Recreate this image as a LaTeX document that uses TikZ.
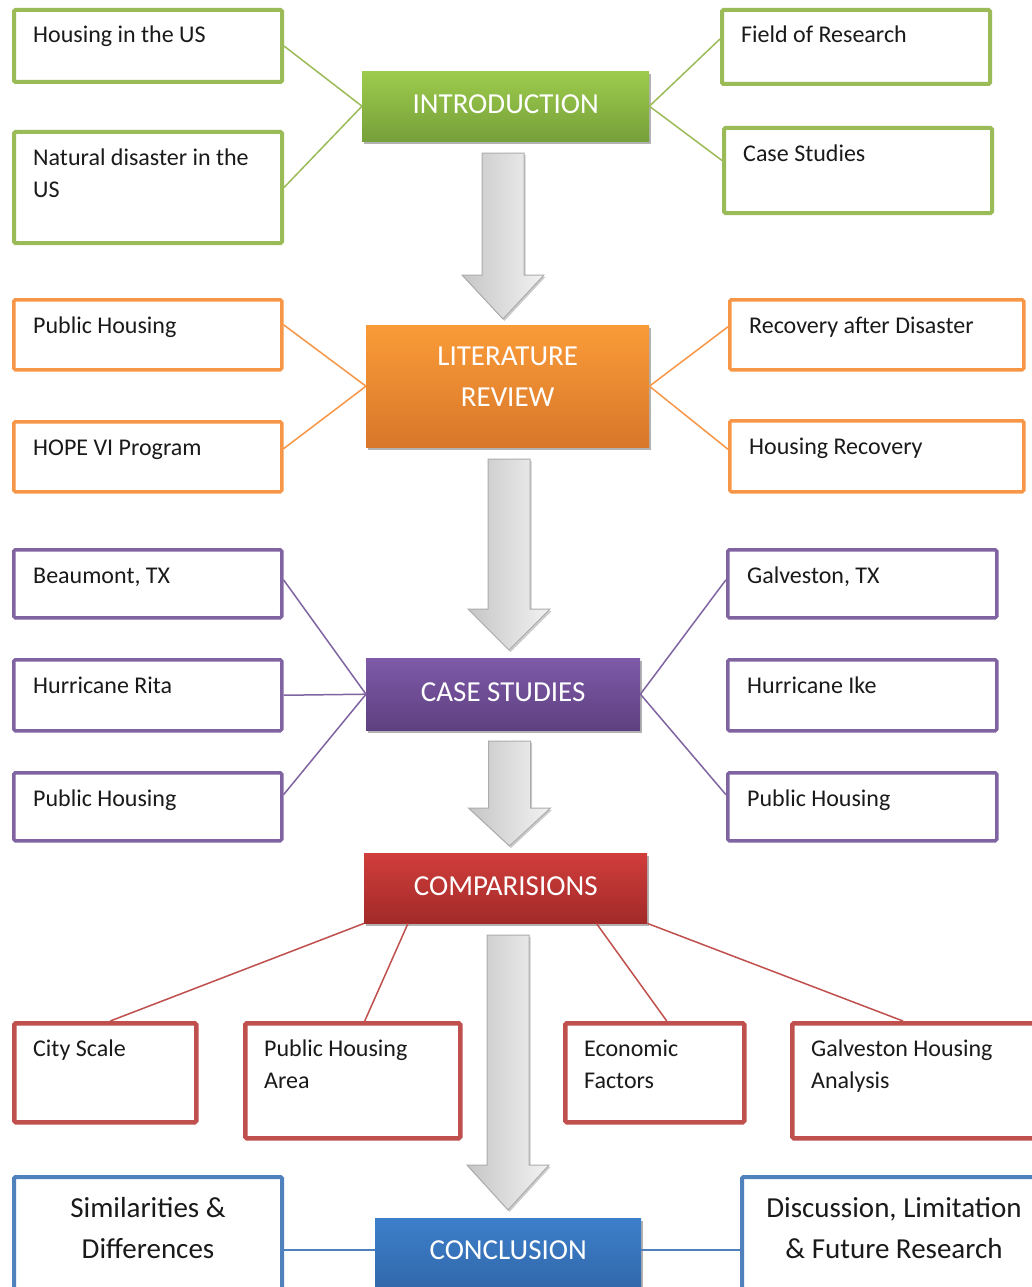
\documentclass[tikz,border=0pt]{standalone}
\usepackage{fontspec}
\setmainfont{Carlito}
\usetikzlibrary{shadows,calc}
\definecolor{cgreen}{HTML}{9BBB59}
\definecolor{corange}{HTML}{F79646}
\definecolor{cpurple}{HTML}{8064A2}
\definecolor{cred}{HTML}{C0504D}
\definecolor{cblue}{HTML}{4F81BD}
\definecolor{gtop}{HTML}{9DCB4C}
\definecolor{gbot}{HTML}{76A03A}
\definecolor{otop}{HTML}{FA9B38}
\definecolor{obot}{HTML}{D8772A}
\definecolor{ptop}{HTML}{7E5AA8}
\definecolor{pbot}{HTML}{5E4080}
\definecolor{rtop}{HTML}{D03E3B}
\definecolor{rbot}{HTML}{A22A29}
\definecolor{btop}{HTML}{3D7FCB}
\definecolor{bbot}{HTML}{2C5E9C}
\definecolor{txt}{HTML}{1A1A1A}
\tikzset{
  sbox/.style={draw, line width=4pt, rounded corners=1.5pt, fill=white, anchor=north west, inner sep=0pt},
  gbox/.style={sbox, draw=cgreen},
  obox/.style={sbox, draw=corange, line width=3.5pt},
  pbox/.style={sbox, draw=cpurple, line width=3.5pt},
  rbox/.style={sbox, draw=cred, line width=4.5pt},
  bbox/.style={sbox, draw=cblue},
  stxt/.style={anchor=base west, inner sep=0pt, font=\fontsize{24}{32}\selectfont, text=txt},
  btxt/.style={anchor=center, inner sep=0pt, font=\fontsize{29}{41}\selectfont, text=txt, align=center},
  mainbox/.style={anchor=north west, inner sep=0pt, draw=none,
    drop shadow={shadow xshift=2pt, shadow yshift=-3pt, opacity=0.3, fill=black}},
  mtxt/.style={anchor=center, inner sep=0pt, text=white, font=\fontsize{29}{41}\selectfont, align=center},
  link/.style={line width=1.5pt},
  bigarrow/.style={draw=gray!65, line width=1pt, left color=gray!45, right color=gray!10,
    drop shadow={shadow xshift=1.5pt, shadow yshift=-2pt, opacity=0.2, fill=black}}
}
\newcommand\bigarr[4]{%
  \path[bigarrow] ({#1-21},#2) -- ({#1+21},#2) -- ({#1+21},#3) -- ({#1+41},#3) -- (#1,#4)
    -- ({#1-41},#3) -- ({#1-21},#3) -- cycle;}
\begin{document}
\begin{tikzpicture}[x=1pt, y=-1pt]
\useasboundingbox (0,0) rectangle (1032,1287);
\fill[white] (0,0) rectangle (1032,1287);

% big arrows
\bigarr{503}{153}{275}{319}
\bigarr{509}{459}{609}{650}
\bigarr{509.5}{741}{808}{846}
\bigarr{508}{935}{1165}{1210}

% ---------- INTRODUCTION ----------
\node[mainbox, top color=gtop, bottom color=gbot, minimum width=287pt, minimum height=70pt] (intro) at (362,71) {};
\node[mtxt] (introT) at ([yshift=2pt]intro.center) {INTRODUCTION};
\node[gbox, minimum width=268pt, minimum height=72pt] (g1) at (12,8) {};
\node[gbox, minimum width=268pt, minimum height=111pt] (g2) at (12,130) {};
\node[gbox, minimum width=268pt, minimum height=74pt] (g3) at (720,8) {};
\node[gbox, minimum width=268pt, minimum height=85pt] (g4) at (722,126) {};
\node[stxt] (g1t) at ([shift={(21pt,-35pt)}]g1.north west) {\parbox[t]{240pt}{\raggedright Housing in the US}};
\node[stxt] (g2t) at ([shift={(21pt,-35pt)}]g2.north west) {\parbox[t]{240pt}{\raggedright Natural disaster in the\\US}};
\node[stxt] (g3t) at ([shift={(21pt,-35pt)}]g3.north west) {\parbox[t]{240pt}{\raggedright Field of Research}};
\node[stxt] (g4t) at ([shift={(21pt,-35pt)}]g4.north west) {\parbox[t]{240pt}{\raggedright Case Studies}};
\draw[link, cgreen] (g1.east) -- (intro.west);
\draw[link, cgreen] (g2.east) -- (intro.west);
\draw[link, cgreen] (intro.east) -- ([yshift=8pt]g3.west);
\draw[link, cgreen] (intro.east) -- ([yshift=10pt]g4.west);

% ---------- LITERATURE REVIEW ----------
\node[mainbox, top color=otop, bottom color=obot, minimum width=283pt, minimum height=122pt] (lit) at (366,325) {};
\node[mtxt] (litT) at ([yshift=10pt]lit.center) {LITERATURE\\REVIEW};
\node[obox, minimum width=268pt, minimum height=70pt] (o1) at (12,298) {};
\node[obox, minimum width=268pt, minimum height=70pt] (o2) at (12,420) {};
\node[obox, minimum width=294pt, minimum height=70pt] (o3) at (728,298) {};
\node[obox, minimum width=294pt, minimum height=71pt] (o4) at (728,419) {};
\node[stxt] (o1t) at ([shift={(21pt,-35pt)}]o1.north west) {\parbox[t]{240pt}{\raggedright Public Housing}};
\node[stxt] (o2t) at ([shift={(21pt,-35pt)}]o2.north west) {\parbox[t]{240pt}{\raggedright HOPE VI Program}};
\node[stxt] (o3t) at ([shift={(21pt,-35pt)}]o3.north west) {\parbox[t]{270pt}{\raggedright Recovery after Disaster}};
\node[stxt] (o4t) at ([shift={(21pt,-35pt)}]o4.north west) {\parbox[t]{270pt}{\raggedright Housing Recovery}};
\draw[link, corange] ([yshift=10pt]o1.east) -- (lit.west);
\draw[link, corange] ([yshift=8pt]o2.east) -- (lit.west);
\draw[link, corange] (lit.east) -- ([yshift=8pt]o3.west);
\draw[link, corange] (lit.east) -- ([yshift=7pt]o4.west);

% ---------- CASE STUDIES ----------
\node[mainbox, top color=ptop, bottom color=pbot, minimum width=274pt, minimum height=72pt] (cs) at (366,658) {};
\node[mtxt] (csT) at ([yshift=2pt]cs.center) {CASE STUDIES};
\node[pbox, minimum width=268pt, minimum height=68pt] (p1) at (12,548) {};
\node[pbox, minimum width=268pt, minimum height=71pt] (p2) at (12,658) {};
\node[pbox, minimum width=268pt, minimum height=68pt] (p3) at (12,771) {};
\node[pbox, minimum width=269pt, minimum height=68pt] (p4) at (726,548) {};
\node[pbox, minimum width=269pt, minimum height=71pt] (p5) at (726,658) {};
\node[pbox, minimum width=269pt, minimum height=68pt] (p6) at (726,771) {};
\node[stxt] (p1t) at ([shift={(21pt,-35pt)}]p1.north west) {\parbox[t]{240pt}{\raggedright Beaumont, TX}};
\node[stxt] (p2t) at ([shift={(21pt,-35pt)}]p2.north west) {\parbox[t]{240pt}{\raggedright Hurricane Rita}};
\node[stxt] (p3t) at ([shift={(21pt,-35pt)}]p3.north west) {\parbox[t]{240pt}{\raggedright Public Housing}};
\node[stxt] (p4t) at ([shift={(21pt,-35pt)}]p4.north west) {\parbox[t]{240pt}{\raggedright Galveston, TX}};
\node[stxt] (p5t) at ([shift={(21pt,-35pt)}]p5.north west) {\parbox[t]{240pt}{\raggedright Hurricane Ike}};
\node[stxt] (p6t) at ([shift={(21pt,-35pt)}]p6.north west) {\parbox[t]{240pt}{\raggedright Public Housing}};
\draw[link, cpurple] ([yshift=4pt]p1.east) -- (cs.west);
\draw[link, cpurple] (p2.east) -- (cs.west);
\draw[link, cpurple] ([yshift=12pt]p3.east) -- (cs.west);
\draw[link, cpurple] (cs.east) -- ([yshift=4pt]p4.west);
\draw[link, cpurple] (cs.east) -- ([yshift=12pt]p6.west);

% ---------- COMPARISIONS ----------
\node[mainbox, top color=rtop, bottom color=rbot, minimum width=283pt, minimum height=70pt] (comp) at (364,853) {};
\node[mtxt] (compT) at ([yshift=2pt]comp.center) {COMPARISIONS};
\node[rbox, minimum width=182pt, minimum height=99pt] (r1) at (12,1021) {};
\node[rbox, minimum width=215pt, minimum height=115pt] (r2) at (243,1021) {};
\node[rbox, minimum width=179pt, minimum height=99pt] (r3) at (563,1021) {};
\node[rbox, minimum width=262pt, minimum height=115pt] (r4) at (790,1021) {};
\node[stxt] (r1t) at ([shift={(21pt,-35pt)}]r1.north west) {\parbox[t]{160pt}{\raggedright City Scale}};
\node[stxt] (r2t) at ([shift={(21pt,-35pt)}]r2.north west) {\parbox[t]{160pt}{\raggedright Public Housing\\Area}};
\node[stxt] (r3t) at ([shift={(21pt,-35pt)}]r3.north west) {\parbox[t]{150pt}{\raggedright Economic\\Factors}};
\node[stxt] (r4t) at ([shift={(21pt,-35pt)}]r4.north west) {\parbox[t]{200pt}{\raggedright Galveston Housing\\Analysis}};
\draw[link, cred] (comp.south west) -- ([xshift=5pt]r1.north);
\draw[link, cred] ([xshift=44pt]comp.south west) -- ([xshift=12pt]r2.north);
\draw[link, cred] ([xshift=-51pt]comp.south east) -- ([xshift=12pt]r3.north);
\draw[link, cred] (comp.south east) -- ([xshift=113pt]r4.north west);

% ---------- CONCLUSION ----------
\node[mainbox, top color=btop, bottom color=bbot, minimum width=266pt, minimum height=100pt] (conc) at (375,1218) {};
\node[mtxt] (concT) at ([shift={(0pt,-32pt)}]conc.north) {CONCLUSION};
\node[bbox, minimum width=268pt, minimum height=130pt] (b1) at (12,1175) {};
\node[bbox, minimum width=304pt, minimum height=130pt] (b2) at (740,1175) {};
\node[btxt] (b1t) at ([shift={(0pt,-53pt)}]b1.north) {Similarities \&\\Differences};
\node[btxt] (b2t) at ([shift={(0pt,-53pt)}]b2.north) {Discussion, Limitation\\\& Future Research};
\draw[link, cblue] (b1.east |- concT) -- (conc.west |- concT);
\draw[link, cblue] (conc.east |- concT) -- (b2.west |- concT);
\end{tikzpicture}
\end{document}
